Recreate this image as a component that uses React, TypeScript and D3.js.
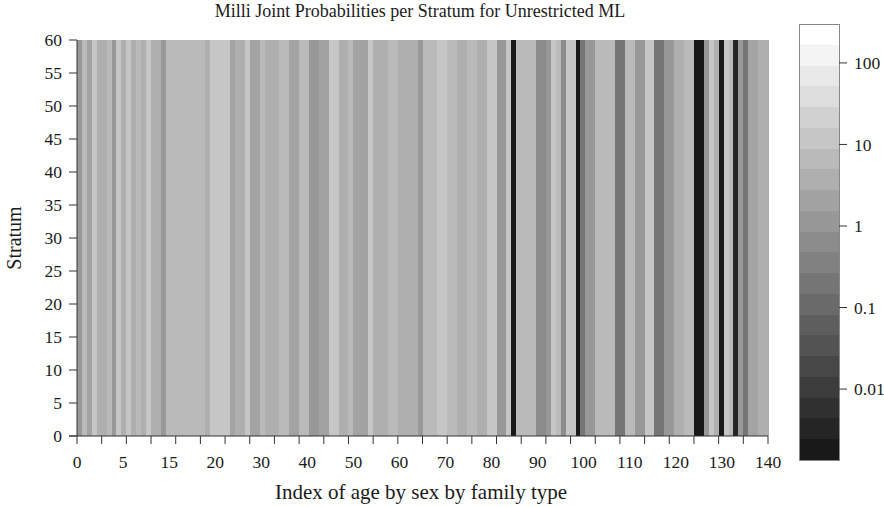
import * as d3 from 'd3';

// milli joint probability per column index (identical for every stratum)
const columnValues = [
  1.1, 8, 2.5, 12, 2.8, 2.8, 8, 1.1, 12, 2.8,
  12, 2.8, 8, 2.8, 12, 2.8, 2.8, 1.1, 6.5, 6.5,
  6.5, 6.5, 6.5, 6.5, 6.5, 6.5, 2.8, 9, 9, 12,
  12, 1.8, 4, 4, 9, 1.8, 1.8, 8, 4, 4,
  4.5, 8, 8, 2, 2, 6.5, 6.5, 1.1, 1.1, 1.8,
  1.8, 12, 12, 2.8, 2.8, 8, 1.8, 1.8, 1.8, 12,
  2.8, 2.8, 2.8, 8, 8, 4, 4, 4.5, 4, 1.1,
  8, 8, 8, 12, 12, 6.5, 6.5, 2.8, 2.8, 6.5,
  6.5, 2.8, 4, 9, 9, 1.1, 1.1, 12, 0.0018, 6.5,
  6.5, 6.5, 8, 0.64, 0.64, 1.1, 12, 8, 0.64, 12,
  12, 0.0018, 0.2, 1.1, 1.1, 6.5, 6.5, 6.5, 6.5, 0.2,
  0.2, 6.5, 6.5, 1.1, 1.1, 12, 12, 0.2, 0.2, 1.1,
  1.1, 2.8, 2.8, 6.5, 6.5, 0.0018, 0.0018, 1.1, 12, 2.8,
  0.0018, 12, 6.5, 0.0025, 1.1, 0.2, 1.8, 1.8, 2.8, 4,
];

const yTicks = [0, 5, 10, 15, 20, 25, 30, 35, 40, 45, 50, 55, 60];
const xTickValues = [0, 5, 10, 15, 20, 25, 30, 35, 40, 45, 50, 55, 60, 65, 70, 75, 80, 85, 90, 95, 100, 105, 110, 115, 120, 125, 130, 135, 140];
const xLabels = ['0', '5', '15', '20', '30', '40', '50', '60', '70', '80', '90', '100', '110', '120', '130', '140'];
const colorTicks = [0.01, 0.1, 1, 10, 100];
const colorDomain = [0.00135, 300];

const W = 884;
const H = 507;
const font = '"Liberation Serif", "Times New Roman", serif';

export default function App() {
  const left = 77, right = 768, top = 40, bottom = 436;

  const x = d3.scaleLinear().domain([0, 140]).range([left, right]);
  const y = d3.scaleLinear().domain([0, 60]).range([bottom, top]);
  const labelPos = d3.scalePoint().domain(xLabels).range([left, right]);

  const nBands = 21;
  const palette = d3.quantize(d3.interpolateRgb('#191919', '#ffffff'), nBands);
  const color = d3
    .scaleQuantize<string>()
    .domain([Math.log10(colorDomain[0]), Math.log10(colorDomain[1])])
    .range(palette);

  const cbX = 799, cbW = 40;
  const cy = d3.scaleLog().domain(colorDomain).range([460, 24]);

  const textColor = '#1a1a1a';
  const axisColor = '#333';
  const tickFont = 17.5;

  return (
    <svg
      width={W}
      height={H}
      style={{ position: 'absolute', left: 0, top: 0, display: 'block', background: '#fff' }}
      fontFamily={font}
    >
      <text x={420} y={17} textAnchor="middle" fontSize={18} fill={textColor}>
        Milli Joint Probabilities per Stratum for Unrestricted ML
      </text>

      {/* heatmap columns, column i spans index i..i+1 */}
      <g shapeRendering="crispEdges">
        {columnValues.map((v, i) => (
          <rect
            key={i}
            x={x(i)}
            y={y(60)}
            width={x(i + 1) - x(i) + 0.5}
            height={y(0) - y(60)}
            fill={color(Math.log10(v))}
          />
        ))}
      </g>

      {/* y axis */}
      <g stroke={axisColor} strokeWidth={1}>
        <line x1={left} x2={left} y1={y(0)} y2={y(60)} />
        {yTicks.map(t => (
          <line key={t} x1={left - 8} x2={left} y1={y(t)} y2={y(t)} />
        ))}
      </g>
      {yTicks.map(t => (
        <text key={t} x={62} y={y(t)} dy="0.35em" textAnchor="end" fontSize={tickFont} fill={textColor}>
          {t}
        </text>
      ))}

      {/* x axis */}
      <g stroke={axisColor} strokeWidth={1}>
        <line x1={left - 8} x2={right} y1={bottom} y2={bottom} />
        {xTickValues.map(t => (
          <line key={t} x1={x(t)} x2={x(t)} y1={bottom} y2={bottom + 8} />
        ))}
      </g>
      {xLabels.map(l => (
        <text key={l} x={labelPos(l)} y={468} textAnchor="middle" fontSize={tickFont} fill={textColor}>
          {l}
        </text>
      ))}

      <text x={421} y={499} textAnchor="middle" fontSize={21} fill={textColor}>
        Index of age by sex by family type
      </text>
      <text
        transform={`translate(21, ${(top + bottom) / 2}) rotate(-90)`}
        textAnchor="middle"
        fontSize={20}
        fill={textColor}
      >
        Stratum
      </text>

      {/* colour bar */}
      <g shapeRendering="crispEdges">
        {palette.map(c => {
          const [a, b] = color.invertExtent(c);
          const y0 = cy(Math.pow(10, b));
          const y1 = cy(Math.pow(10, a));
          return <rect key={c} x={cbX} y={y0} width={cbW} height={y1 - y0} fill={c} />;
        })}
        <rect x={cbX} y={24} width={cbW} height={436} fill="none" stroke="#888" />
      </g>
      {colorTicks.map(t => (
        <g key={t}>
          <line x1={cbX + cbW} x2={cbX + cbW + 8} y1={cy(t)} y2={cy(t)} stroke={axisColor} />
          <text x={854} y={cy(t)} dy="0.35em" fontSize={tickFont} fill={textColor}>
            {t}
          </text>
        </g>
      ))}
    </svg>
  );
}
